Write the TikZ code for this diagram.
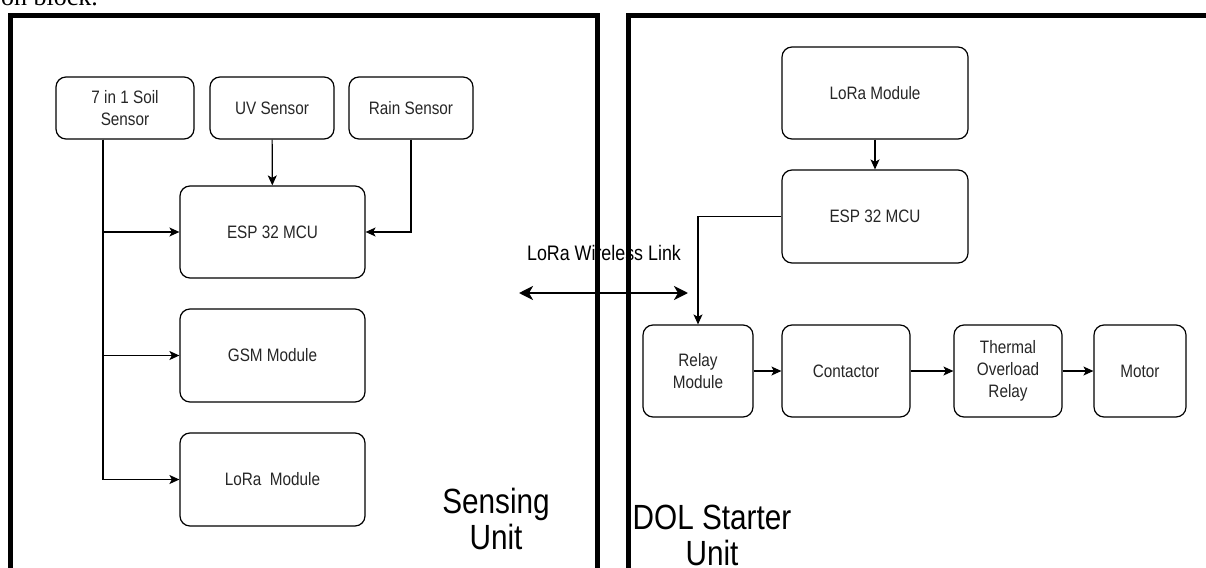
\documentclass[tikz,border=0pt]{standalone}
\usepackage{fontspec}
\setmainfont{Liberation Sans}[FakeStretch=0.85]
\newfontfamily\capfont{Liberation Serif}
\usetikzlibrary{arrows.meta}

\begin{document}
\begin{tikzpicture}[x=1pt,y=-1pt,
  blk/.style={draw,rounded corners=10pt,line width=1.2pt,align=center,inner sep=2pt,text=black!85,font=\fontsize{18}{22}\selectfont},
  frm/.style={line width=5pt},
  arr/.style={-{Stealth[length=10pt,width=9pt,inset=2.5pt]},line width=1.2pt},
  link/.style={{Stealth[length=14pt,width=14pt,inset=4pt]}-{Stealth[length=14pt,width=14pt,inset=4pt]},line width=2.5pt},
  bigtxt/.style={align=center,inner sep=0pt,font=\fontsize{35}{36}\selectfont}]
\clip (0,0) rectangle (1206,567);

\node (cap) at (1,6) [anchor=base west,inner sep=0pt,font=\capfont\fontsize{26}{28}\selectfont] {on block.};

\draw[frm] (10,16) rectangle (597,640);
\draw[frm] (628,16) rectangle (1270,640);

\node (soil) at (125,108) [blk,minimum width=138pt,minimum height=62pt] {7 in 1 Soil\\Sensor};
\node (uv) at (272,108) [blk,minimum width=124pt,minimum height=62pt] {UV Sensor};
\node (rain) at (411,108) [blk,minimum width=124pt,minimum height=62pt] {Rain Sensor};
\node (espS) at (272.5,232) [blk,minimum width=185pt,minimum height=92pt] {ESP 32 MCU};
\node (gsm) at (272.5,355.5) [blk,minimum width=185pt,minimum height=93pt] {GSM Module};
\node (loraS) at (272.5,479.5) [blk,minimum width=185pt,minimum height=93pt] {LoRa~ Module};

\draw[arr] ([xshift=-22pt]soil.south) |- (espS.west);
\draw[arr] ([xshift=-22pt]soil.south) |- (gsm.west);
\draw[arr] ([xshift=-22pt]soil.south) |- (loraS.west);
\draw[arr] (uv) -- (espS);
\draw[arr] (rain.south) |- (espS.east);

\node (sensing) at (496,488) [bigtxt,anchor=north] {Sensing\\Unit};

\node (loraR) at (875,93) [blk,minimum width=186pt,minimum height=92pt] {LoRa Module};
\node (espR) at (875,216.5) [blk,minimum width=186pt,minimum height=93pt] {ESP 32 MCU};
\node (relay) at (698,371) [blk,minimum width=110pt,minimum height=92pt] {Relay\\Module};
\node (cont) at (846,371) [blk,minimum width=128pt,minimum height=92pt] {Contactor};
\node (olr) at (1008,371) [blk,minimum width=108pt,minimum height=92pt] {Thermal\\Overload\\Relay};
\node (motor) at (1140,371) [blk,minimum width=92pt,minimum height=92pt] {Motor};

\draw[arr] (loraR) -- (espR);
\draw[arr] (espR.west) -| (relay.north);
\draw[arr] (relay) -- (cont);
\draw[arr] (cont) -- (olr);
\draw[arr] (olr) -- (motor);

\node (dol) at (712,505) [bigtxt,anchor=north] {DOL Starter\\Unit};

\coordinate (linkL) at (519,293);
\coordinate (linkR) at (688,293);
\draw[link] (linkL) -- (linkR);
\node (linktxt) at (604,260) [anchor=base,inner sep=0pt,font=\fontsize{21}{24}\selectfont] {LoRa Wireless Link};

\end{tikzpicture}
\end{document}
